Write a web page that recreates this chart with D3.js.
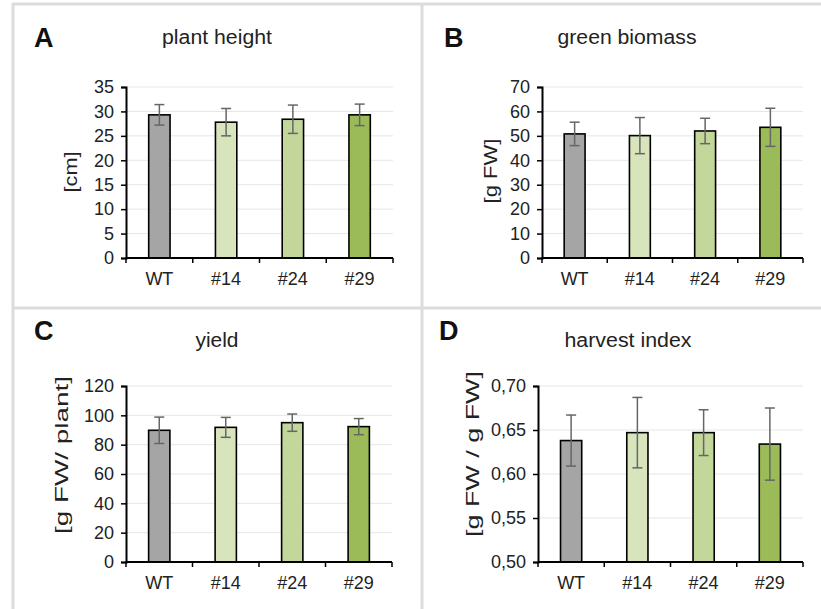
<!DOCTYPE html>
<html lang="en">
<head>
<style>
html, body {
    margin: 0;
    padding: 0;
    background: #fff;
}
svg {
    width: 821px;
    height: 609px;
    display: block;
    font-family: "Liberation Sans", Arial, sans-serif;
}
</style>
</head>
<body>
<svg></svg>

<script src="https://cdn.jsdelivr.net/npm/d3@7/dist/d3.min.js"></script>
<script>
// four small bar charts (mean +/- sd), one per trait

var lines = ["WT", "#14", "#24", "#29"];
var barColors = ["#a5a5a5", "#d8e4bc", "#c4d79b", "#9bbb59"];

var heightMean = [29.3, 27.8, 28.4, 29.3];
var heightErr  = [2.1, 2.8, 2.9, 2.2];

var biomassMean = [50.8, 50.1, 52.0, 53.5];
var biomassErr  = [4.8, 7.4, 5.2, 7.8];

var yieldMean = [89.8, 91.8, 95.0, 92.3];
var yieldErr  = [9.0, 6.8, 5.9, 5.5];

var hiMean = [0.638, 0.647, 0.647, 0.634];
var hiErr  = [0.029, 0.040, 0.026, 0.041];

var heightTicks  = [0, 5, 10, 15, 20, 25, 30, 35];
var biomassTicks = [0, 10, 20, 30, 40, 50, 60, 70];
var yieldTicks   = [0, 20, 40, 60, 80, 100, 120];
var hiTicks      = [0.50, 0.55, 0.60, 0.65, 0.70];

var svg = d3.select("svg");

// light grey frame between panels
var frame = svg.append("g")
    .attr("stroke", "#dcdcdc")
    .attr("stroke-width", 3);
frame.append("line").attr("x1", 12).attr("x2", 821).attr("y1", 4).attr("y2", 4);
frame.append("line").attr("x1", 13).attr("x2", 13).attr("y1", 3).attr("y2", 609);
frame.append("line").attr("x1", 422).attr("x2", 422).attr("y1", 3).attr("y2", 609);
frame.append("line").attr("x1", 12).attr("x2", 821).attr("y1", 308).attr("y2", 308);

function drawPanel(p) {
    var g = svg.append("g");

    var x = d3.scaleBand()
        .domain(lines)
        .range([p.left, p.right]);

    var y = d3.scaleLinear()
        .domain(p.domain)
        .range([p.bottom, p.top]);

    // gridlines
    g.selectAll(".grid")
        .data(p.ticks.slice(1))
        .enter().append("line")
        .attr("x1", p.left).attr("x2", p.right)
        .attr("y1", function(d){ return y(d) })
        .attr("y2", function(d){ return y(d) })
        .attr("stroke", "#e6e6e6")
        .attr("stroke-width", 1);

    var bw = x.bandwidth() * 0.32;
    var data = lines.map(function(c, i){
        return {cat: c, v: p.mean[i], e: p.err[i], col: barColors[i]};
    });

    g.selectAll(".bar")
        .data(data)
        .enter().append("rect")
        .attr("x", function(d){ return x(d.cat) + (x.bandwidth() - bw) / 2 })
        .attr("y", function(d){ return y(d.v) })
        .attr("width", bw)
        .attr("height", function(d){ return y(p.domain[0]) - y(d.v) })
        .attr("fill", function(d){ return d.col })
        .attr("stroke", "#000")
        .attr("stroke-width", 1.6);

    // error bars
    var eb = g.selectAll(".err")
        .data(data)
        .enter().append("g")
        .attr("stroke", "#666")
        .attr("stroke-width", 1.5);
    var cx = function(d){ return x(d.cat) + x.bandwidth() / 2 };
    eb.append("line")
        .attr("x1", cx).attr("x2", cx)
        .attr("y1", function(d){ return y(d.v + d.e) })
        .attr("y2", function(d){ return y(d.v - d.e) });
    [1, -1].forEach(function(s){
        eb.append("line")
            .attr("x1", function(d){ return cx(d) - 5 })
            .attr("x2", function(d){ return cx(d) + 5 })
            .attr("y1", function(d){ return y(d.v + s * d.e) })
            .attr("y2", function(d){ return y(d.v + s * d.e) });
    });

    // y axis
    var yAxis = d3.axisLeft(y)
        .tickValues(p.ticks)
        .tickSize(5)
        .tickPadding(7)
        .tickFormat(p.fmt);
    var ya = g.append("g")
        .attr("transform", "translate(" + p.left + ",0)")
        .call(yAxis);

    // x axis with ticks at band edges
    var xa = g.append("g")
        .attr("transform", "translate(0," + p.bottom + ")");
    xa.append("line")
        .attr("x1", p.left).attr("x2", p.right)
        .attr("stroke", "#000").attr("stroke-width", 2);
    xa.selectAll(".xt")
        .data(lines.concat(["end"]))
        .enter().append("line")
        .attr("x1", function(d, i){ return p.left + i * x.bandwidth() })
        .attr("x2", function(d, i){ return p.left + i * x.bandwidth() })
        .attr("y1", 0).attr("y2", 5)
        .attr("stroke", "#000").attr("stroke-width", 1.5);
    xa.selectAll(".xl")
        .data(lines)
        .enter().append("text")
        .attr("x", function(d){ return x(d) + x.bandwidth() / 2 })
        .attr("y", 27)
        .attr("text-anchor", "middle")
        .attr("font-size", 18)
        .attr("fill", "#222")
        .text(function(d){ return d });

    ya.select(".domain").attr("stroke-width", 2);
    ya.selectAll(".tick line").attr("stroke-width", 1.5);
    ya.selectAll(".tick text")
        .attr("font-size", 18)
        .attr("fill", "#222");

    // axis title
    g.append("text")
        .attr("transform", "translate(" + p.ylabX + "," + p.ylabY + ") rotate(-90)")
        .attr("text-anchor", "middle")
        .attr("font-size", 19)
        .attr("fill", "#222")
        .attr("textLength", p.ylabLen)
        .attr("lengthAdjust", "spacingAndGlyphs")
        .text(p.ylabel);

    // panel letter and title
    g.append("text")
        .attr("x", p.letterX).attr("y", p.letterY)
        .attr("font-size", 27)
        .attr("font-weight", "bold")
        .attr("fill", "#111")
        .text(p.letter);
    g.append("text")
        .attr("x", p.titleX).attr("y", p.titleY)
        .attr("text-anchor", "middle")
        .attr("font-size", 20)
        .attr("fill", "#222")
        .attr("textLength", p.titleLen)
        .attr("lengthAdjust", "spacingAndGlyphs")
        .text(p.title);
}

var fmtInt = d3.format("d");
var fmtComma = function(d){ return d3.format(".2f")(d).replace(".", ",") };

drawPanel({letter: "A", title: "plant height", ylabel: "[cm]",
    mean: heightMean, err: heightErr, domain: [0, 35], ticks: heightTicks, fmt: fmtInt,
    left: 126, right: 393, top: 87, bottom: 258,
    ylabX: 77, ylabY: 172, ylabLen: 41, letterX: 34, letterY: 47, titleX: 217, titleY: 44, titleLen: 110});

drawPanel({letter: "B", title: "green biomass", ylabel: "[g FW]",
    mean: biomassMean, err: biomassErr, domain: [0, 70], ticks: biomassTicks, fmt: fmtInt,
    left: 542, right: 803, top: 87, bottom: 258,
    ylabX: 497, ylabY: 171, ylabLen: 65, letterX: 444, letterY: 47, titleX: 627, titleY: 44, titleLen: 139});

drawPanel({letter: "C", title: "yield", ylabel: "[g FW/ plant]",
    mean: yieldMean, err: yieldErr, domain: [0, 120], ticks: yieldTicks, fmt: fmtInt,
    left: 126, right: 392, top: 386, bottom: 562,
    ylabX: 68, ylabY: 455, ylabLen: 158, letterX: 34, letterY: 340, titleX: 217, titleY: 347, titleLen: 43});

drawPanel({letter: "D", title: "harvest index", ylabel: "[g FW / g FW]",
    mean: hiMean, err: hiErr, domain: [0.5, 0.7], ticks: hiTicks, fmt: fmtComma,
    left: 538, right: 803, top: 386, bottom: 562,
    ylabX: 479, ylabY: 454, ylabLen: 166, letterX: 439, letterY: 340, titleX: 628, titleY: 347, titleLen: 127});
</script>

</body>
</html>
